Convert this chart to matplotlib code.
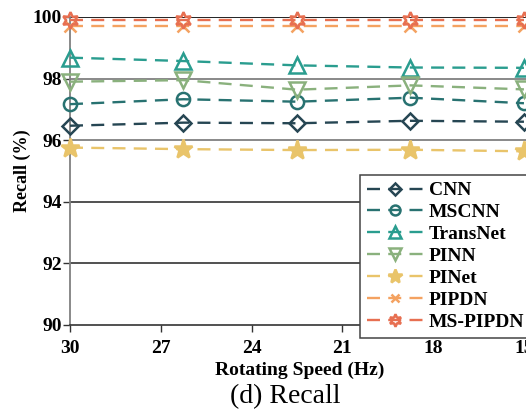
import numpy as np
import matplotlib
matplotlib.use('Agg')
import matplotlib.pyplot as plt

# recall (%) per model at each rotating speed
speeds = [30, 26.25, 22.5, 18.75, 15]
models = ['CNN', 'MSCNN', 'TransNet', 'PINN', 'PINet', 'PIPDN', 'MS-PIPDN']
recall_cnn = [96.47, 96.57, 96.55, 96.63, 96.60]
recall_mscnn = [97.17, 97.33, 97.25, 97.38, 97.20]
recall_transnet = [98.68, 98.57, 98.43, 98.36, 98.35]
recall_pinn = [97.90, 97.95, 97.64, 97.78, 97.65]
recall_pinet = [95.76, 95.71, 95.68, 95.69, 95.64]
recall_pipdn = [99.72, 99.72, 99.72, 99.72, 99.72]
recall_mspipdn = [99.90, 99.90, 99.90, 99.90, 99.90]
xticks = [30, 27, 24, 21, 18, 15]
yticks = [90, 92, 94, 96, 98, 100]

colors = ['#264653', '#287271', '#2a9d8f', '#8ab17d', '#e9c46a', '#f4a261', '#e76f51']
markers = ['D', 'o', '^', 'v', '*', 'x', (6, 1, 0)]
filled = [False, False, False, False, True, True, False]
sizes = [8, 9.5, 11, 11, 14, 8, 12]

plt.rc('font', family=['Liberation Serif', 'DejaVu Serif'], weight='bold', size=14)
fig = plt.figure(figsize=(5.26, 4.11), dpi=100)
ax = fig.add_axes([70/526, 1-325/411, 460/526, 308/411])

for g in [92, 94]:
	ax.axhline(g, color='#222222', lw=1.1, zorder=1)
for g in [96, 98]:
	ax.axhline(g, color='#808080', lw=1.3, zorder=1)
ax.axhline(100, color='#111111', lw=1.3, zorder=1)

all_vals = [recall_cnn, recall_mscnn, recall_transnet, recall_pinn,
	recall_pinet, recall_pipdn, recall_mspipdn]
for vals, lab, c, m, f, s in zip(all_vals, models, colors, markers, filled, sizes):
	ax.plot(speeds, vals, color=c, lw=1.7, dashes=(5.5, 3.5), marker=m,
		markersize=s, markerfacecolor=(c if f else 'none'), markeredgecolor=c,
		markeredgewidth=1.8, label=lab, zorder=3, clip_on=False)

ax.set_xlim(30, 14.8)
ax.set_ylim(90, 100)
ax.set_xticks(xticks)
ax.set_yticks(yticks)
ax.tick_params(axis='both', direction='out', length=5, width=1, colors='#333333',
	labelcolor='black', labelsize=14)
ax.tick_params(axis='x', pad=6)
ax.tick_params(axis='y', pad=1)
for sp in ['top', 'right']:
	ax.spines[sp].set_visible(False)
ax.spines['left'].set_color('#808080')
ax.spines['left'].set_linewidth(1.3)
ax.spines['bottom'].set_color('#333333')
ax.spines['bottom'].set_linewidth(1.2)

ax.set_ylabel('Recall (%)', fontsize=13, fontweight='bold', labelpad=1)
ax.set_xlabel('Rotating Speed (Hz)', fontsize=14, fontweight='bold', labelpad=3)

leg = fig.legend(loc='upper left', bbox_to_anchor=(360/526, 1-175/411),
	bbox_transform=fig.transFigure, fontsize=14, handlelength=2.9,
	handletextpad=0.3, labelspacing=0.22, borderpad=0.35, borderaxespad=0,
	fancybox=False, framealpha=1, edgecolor='#444444', markerscale=0.75)
leg.get_frame().set_linewidth(1.1)

fig.text(285/526, 1-397/411, '(d) Recall', ha='center', va='center',
	fontsize=20, fontweight='normal')

fig.savefig('out.png', dpi=100)
